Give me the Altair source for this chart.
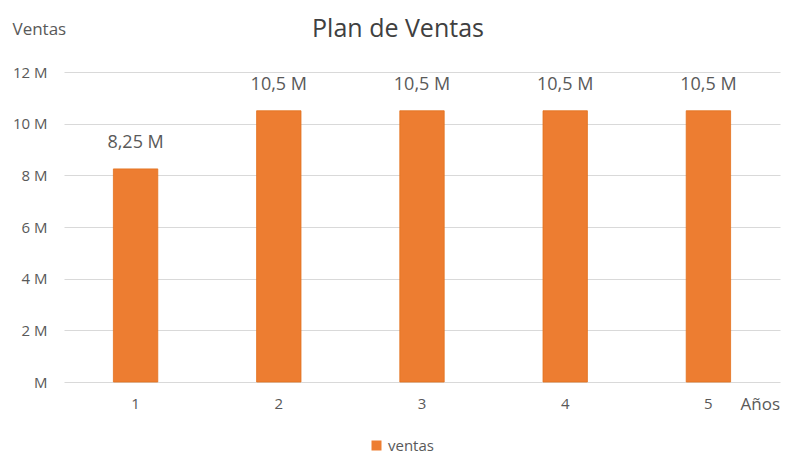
import altair as alt
import pandas as pd

anios = ["1", "2", "3", "4", "5"]
ventas = [8250000, 10500000, 10500000, 10500000, 10500000]
etiquetas = ["8,25 M", "10,5 M", "10,5 M", "10,5 M", "10,5 M"]
y_ticks = [0, 2000000, 4000000, 6000000, 8000000, 10000000, 12000000]

df = pd.DataFrame({"Años": anios, "ventas": ventas, "etiqueta": etiquetas, "serie": ["ventas"] * 5})

FONT = "Open Sans"
GRAY = "#595959"
ORANGE = "#ED7D31"

x = alt.X("Años:N", sort=anios,
          scale=alt.Scale(paddingInner=0.69, paddingOuter=0.345),
          axis=alt.Axis(title="Años", labelAngle=0, labelFontSize=15, labelColor=GRAY,
                        labelPadding=14, ticks=False, domain=False, grid=False,
                        labelFont=FONT, titleFont=FONT, titleFontSize=17,
                        titleFontWeight="normal", titleColor=GRAY,
                        titleAlign="left", titleAnchor="start", titleX=676, titleY=27,
                        titleBaseline="alphabetic"))
y = alt.Y("ventas:Q",
          scale=alt.Scale(domain=[0, 12000000], nice=False),
          axis=alt.Axis(title="Ventas", values=y_ticks,
                        labelExpr="datum.value == 0 ? 'M' : (datum.value/1000000) + ' M'",
                        labelFontSize=15, labelColor=GRAY, labelPadding=17, labelFont=FONT,
                        ticks=False, domain=False, gridColor="#D9D9D9", gridWidth=1,
                        titleFont=FONT, titleFontSize=17, titleFontWeight="normal",
                        titleColor=GRAY, titleAngle=0, titleAlign="left",
                        titleX=-52, titleY=-38, titleBaseline="alphabetic"))

bars = alt.Chart(df).mark_bar(color=ORANGE, stroke="#E2711D", strokeWidth=0.8).encode(
    x=x, y=y,
    color=alt.Color("serie:N", scale=alt.Scale(range=[ORANGE]),
                    legend=alt.Legend(title=None, orient="none", legendX=305, legendY=366,
                                      symbolType="square", symbolSize=100,
                                      labelFont=FONT, labelFontSize=15, labelColor=GRAY,
                                      symbolStrokeWidth=0))
)

labels = alt.Chart(df).mark_text(font=FONT, fontSize=18, color=GRAY,
                                 baseline="alphabetic", dy=-21).encode(
    x=alt.X("Años:N", sort=anios), y="ventas:Q", text="etiqueta:N")

chart = alt.layer(bars, labels).properties(
    width=716, height=310,
    title=alt.TitleParams("Plan de Ventas", font=FONT, fontSize=25, fontWeight="normal",
                          color="#404040", anchor="middle", dx=-24, offset=0, dy=42,
                          baseline="alphabetic"),
    autosize=alt.AutoSizeParams(type="none"),
    padding={"left": 56, "top": 64, "right": 12, "bottom": 82},
).configure_view(stroke=None)

chart.save("out.html", embed_options={"renderer": "svg", "actions": False})
